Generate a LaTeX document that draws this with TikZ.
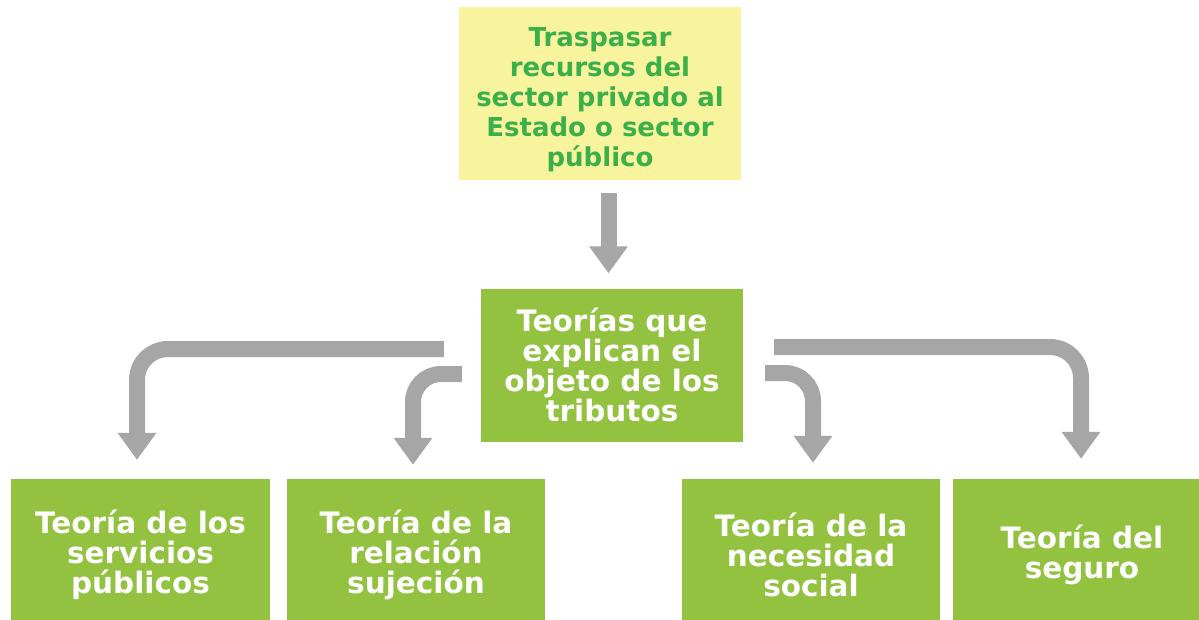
\documentclass[tikz,border=0pt]{standalone}
\usepackage{fontspec}
\setmainfont{DejaVu Sans}
\usepackage{xcolor}
\usetikzlibrary{arrows.meta,positioning}
\definecolor{amarillo}{HTML}{F8F39D}
\definecolor{verde}{HTML}{93C240}
\definecolor{verdetexto}{HTML}{3BAF4A}
\definecolor{gris}{HTML}{A6A6A6}

\begin{document}
\begin{tikzpicture}[x=1pt,y=-1pt,
		caja/.style={rectangle, inner sep=0pt, align=center, font=\fontsize{29.5}{30}\selectfont\bfseries},
		verdecaja/.style={caja, fill=verde, text=white, minimum width=258pt, minimum height=152pt},
		flecha/.style={draw=gris, line width=16pt, rounded corners=28pt, -{Triangle[width=37pt,length=27pt]}}]
		\useasboundingbox (0,0) rectangle (1199,619);

		% Cajas
		\node[caja, fill=amarillo, minimum width=282pt, minimum height=173pt,
			label={[caja, text=verdetexto, font=\fontsize{26}{30}\selectfont\bfseries, yshift=-6pt]center:{Traspasar\\recursos del\\sector privado al\\Estado o sector\\público}}]
			(recursos) at (600,93.5) {};
		\node[verdecaja, minimum width=262pt, minimum height=153pt] (teorias) at (612,365)
			{Teorías que\\explican el\\objeto de los\\tributos};
		\node[verdecaja, minimum width=259pt] (servicios) at (140.5,555)
			{Teoría de los\\servicios\\públicos};
		\node[verdecaja] (sujecion) at (416,555)
			{Teoría de la\\relación\\sujeción};
		\node[verdecaja] (necesidad) at (811,555)
			{Teoría de la\\necesidad\\social};
		\node[verdecaja] (seguro) at (1082,555)
			{Teoría del\\seguro};

		% Flechas
		\draw[flecha, shorten <=13pt, shorten >=15pt] ([xshift=8.5pt]recursos.south) -- ([xshift=-3.5pt]teorias.north);
		\draw[flecha, rounded corners=31pt, shorten >=19pt] ([xshift=-37pt,yshift=16pt]teorias.west) -| ([xshift=-3.5pt]servicios.north);
		\draw[flecha, shorten >=14pt] ([xshift=-19pt,yshift=-9pt]teorias.west) -| ([xshift=-3pt]sujecion.north);
		\draw[flecha, shorten >=16pt] ([xshift=22pt,yshift=-8pt]teorias.east) -| ([xshift=2pt]necesidad.north);
		\draw[flecha, rounded corners=31pt, shorten >=20pt] ([xshift=31pt,yshift=18pt]teorias.east) -| ([xshift=-1pt]seguro.north);
	\end{tikzpicture}
\end{document}
